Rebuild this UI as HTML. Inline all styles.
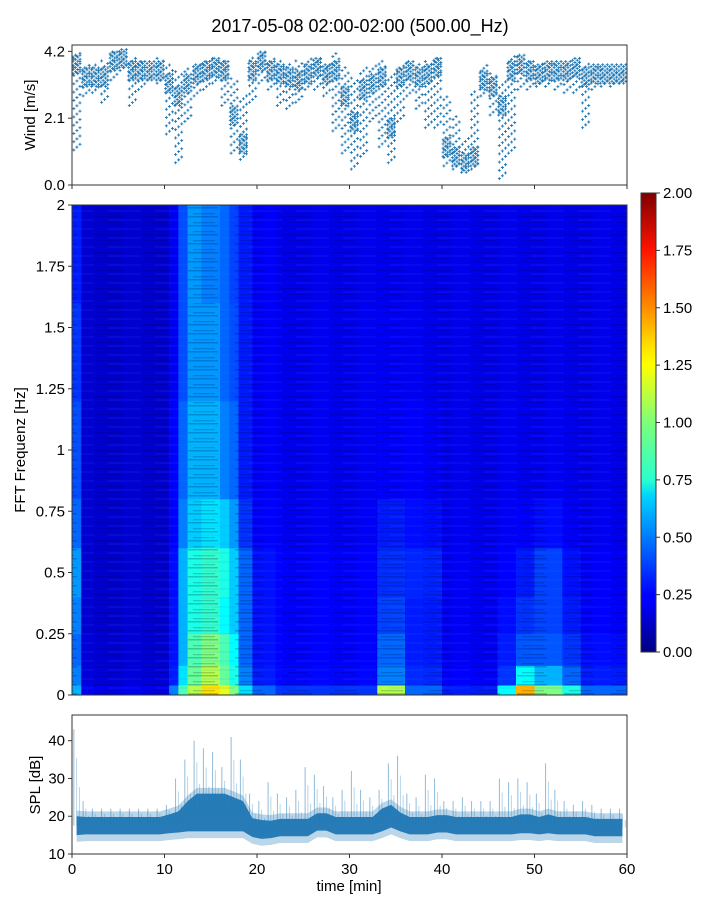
<!DOCTYPE html>
<html><head><meta charset="utf-8">
<style>
body{margin:0;background:#fff;}
svg{display:block;font-family:"Liberation Sans","DejaVu Sans",sans-serif;}
</style></head>
<body>
<svg id="fig" width="720" height="900" viewBox="0 0 720 900">
<defs>
<pattern id="streaks" width="47" height="9" patternUnits="userSpaceOnUse">
<rect x="0" y="0" width="30" height="1.5" fill="rgba(0,0,60,0.22)"/>
<rect x="14" y="3.5" width="33" height="1" fill="rgba(60,110,255,0.18)"/>
<rect x="5" y="6" width="22" height="1.3" fill="rgba(0,0,40,0.18)"/>
</pattern>
<linearGradient id="jet" x1="0" y1="1" x2="0" y2="0">
<stop offset="0" stop-color="#00007f"/><stop offset="0.11" stop-color="#0000ff"/>
<stop offset="0.125" stop-color="#0000ff"/><stop offset="0.34" stop-color="#00d4ff"/>
<stop offset="0.375" stop-color="#29ffce"/><stop offset="0.5" stop-color="#7dff7a"/>
<stop offset="0.625" stop-color="#ffff00"/><stop offset="0.66" stop-color="#ffe600"/>
<stop offset="0.875" stop-color="#ff1300"/><stop offset="1" stop-color="#7f0000"/>
</linearGradient>
</defs>
<text x="360" y="32" font-size="18" text-anchor="middle">2017-05-08 02:00-02:00 (500.00_Hz)</text>
<g id="wind"></g>
<g id="spec"></g>
<g id="cbar"></g>
<g id="spl"></g>
</svg>
<script>
// ---------- data ----------
const windCore=[3.8,3.4,3.4,3.4,3.9,4.0,3.6,3.6,3.6,3.6,3.2,2.8,3.2,3.5,3.6,3.7,3.6,2.2,1.3,3.6,3.9,3.6,3.5,3.4,3.3,3.5,3.7,3.5,3.6,2.8,2.0,3.0,3.2,3.4,1.8,3.4,3.6,3.4,3.5,3.7,1.2,0.9,0.7,0.9,3.3,3.1,2.5,3.6,3.8,3.6,3.5,3.6,3.6,3.6,3.7,3.4,3.5,3.5,3.5,3.5];
const windLo=[1.1,2.8,2.9,2.6,3.3,3.6,2.5,3.0,3.3,3.2,1.6,0.7,2.0,2.8,3.0,3.2,2.5,1.0,0.8,2.6,3.2,3.0,2.5,2.4,2.6,3.0,3.0,2.8,1.7,1.0,0.5,0.9,2.0,1.2,0.7,2.0,2.8,2.4,1.8,1.8,0.6,0.5,0.5,0.5,2.8,2.2,0.2,1.0,3.0,3.0,3.1,3.1,3.0,2.9,2.9,1.8,3.0,3.1,3.1,3.2];
const windHi=[4.2,3.8,3.8,3.9,4.2,4.2,4.0,3.9,3.8,4.0,3.8,3.6,3.7,3.8,3.9,4.0,3.9,3.4,2.8,4.0,4.2,4.0,3.9,3.8,3.9,4.0,4.0,3.8,4.2,3.7,3.4,3.7,3.8,3.9,3.5,3.8,3.9,3.8,3.9,4.0,2.8,2.2,1.5,3.0,3.8,3.5,3.3,4.1,4.1,3.9,3.8,3.8,3.8,3.8,3.9,3.8,3.7,3.7,3.7,3.6];
const windTicks=["0.0","2.1","4.2"];

const segEdges=[0,1,10.5,11.5,12.5,14,16,17,18,19.5,22,33,36,40,46,48,50,53,55,60];
const bandEdges=[0,0.04,0.12,0.25,0.4,0.6,0.8,1.2,1.6,2];
const specVals=[
[0.6,0.5,0.45,0.5,0.55,0.45,0.4,0.35,0.3],
[0.22,0.18,0.17,0.16,0.16,0.16,0.16,0.16,0.16],
[0.5,0.3,0.28,0.28,0.27,0.25,0.25,0.22,0.22],
[0.9,0.7,0.6,0.6,0.6,0.5,0.45,0.4,0.4],
[1.1,0.95,0.9,0.8,0.8,0.65,0.6,0.55,0.55],
[1.3,1.1,1.0,0.85,0.85,0.7,0.6,0.55,0.5],
[1.2,0.95,0.9,0.75,0.8,0.65,0.5,0.45,0.45],
[1.0,0.8,0.75,0.65,0.65,0.55,0.45,0.4,0.38],
[0.7,0.5,0.45,0.45,0.45,0.35,0.3,0.3,0.3],
[0.45,0.3,0.28,0.28,0.28,0.25,0.24,0.24,0.24],
[0.35,0.26,0.25,0.25,0.25,0.23,0.22,0.22,0.21],
[1.1,0.5,0.45,0.38,0.34,0.3,0.25,0.24,0.22],
[0.45,0.33,0.3,0.3,0.32,0.27,0.24,0.22,0.21],
[0.3,0.25,0.23,0.23,0.23,0.22,0.21,0.21,0.21],
[0.75,0.35,0.3,0.27,0.25,0.23,0.22,0.21,0.21],
[1.4,0.75,0.42,0.35,0.3,0.25,0.22,0.21,0.21],
[1.0,0.6,0.42,0.38,0.38,0.27,0.22,0.21,0.21],
[0.8,0.45,0.35,0.3,0.28,0.24,0.22,0.21,0.21],
[0.45,0.3,0.27,0.25,0.24,0.22,0.21,0.21,0.21]];
const freqTicks=["0","0.25","0.5","0.75","1","1.25","1.5","1.75","2"];
const cbarTicks=["0.00","0.25","0.50","0.75","1.00","1.25","1.50","1.75","2.00"];

const splMid=[17.5,17.5,17.5,17.5,17.5,17.5,17.5,17.5,17.5,17.5,18,18.5,20,21,21,21,21,20.5,20,17,16.5,16.5,17,17,17,17,18.5,18.5,17.5,17.5,17.5,17.5,17.5,19,20,18.5,17.5,17.5,17.5,18,18,17.5,17.5,17.5,17.5,17.5,17.5,17.5,18,18,17.5,18,17.5,17.5,17.5,17.5,17,17,17,17];
const splHalf=[2.5,2.3,2.3,2.3,2.3,2.3,2.3,2.3,2.3,2.3,2.5,2.8,4,5,5,5,5,4.5,4,2.5,2.5,2.3,2.3,2.3,2.3,2.3,2.3,2.3,2.3,2.3,2.3,2.3,2.3,3,3,2.5,2.3,2.3,2.3,2.3,2.3,2.3,2.3,2.3,2.3,2.3,2.3,2.3,2.5,2.5,2.3,2.5,2.3,2.3,2.3,2.3,2.3,2.3,2.3,2.3];
const splPeak=[43,24,22,22,22,22,22,22,22,22,23,30,35,40,38,37,33,41,35,26,24,29,26,25,27,33,31,28,25,27,32,27,25,27,34,36,26,25,31,30,24,24,25,24,24,24,30,29,30,29,26,34,27,24,23,24,23,22,22,22];
const splTicks=["10","20","30","40"];
const timeTicks=["0","10","20","30","40","50","60"];

// ---------- helpers ----------
const NS="http://www.w3.org/2000/svg";
function mk(tag,attrs,parent){const e=document.createElementNS(NS,tag);for(const k in attrs)e.setAttribute(k,attrs[k]);parent.appendChild(e);return e;}
const X0=72,X1=627;
const xT=t=>X0+(X1-X0)*t/60;
function jet(v){let x=Math.max(0,Math.min(1,v/2));
 const r=Math.max(0,Math.min(1,1.5-Math.abs(4*x-3))),g=Math.max(0,Math.min(1,1.5-Math.abs(4*x-2))),b=Math.max(0,Math.min(1,1.5-Math.abs(4*x-1)));
 return `rgb(${Math.round(r*255)},${Math.round(g*255)},${Math.round(b*255)})`;}
function txt(parent,x,y,s,anchor,size){const e=mk('text',{x:x,y:y,'font-size':size||15,'text-anchor':anchor||'end'},parent);e.textContent=s;return e;}

// ---------- wind panel ----------
(function(){
const g=document.getElementById('wind');
const T=45,B=185;const yW=v=>B-(v/4.4)*(B-T);
let d="";
for(let i=0;i<windCore.length;i++){
 for(let k=0;k<4;k++){const t=i+k*0.25+0.12;
  for(let v=windCore[i]-0.3;v<=windCore[i]+0.31;v+=0.13){const x=xT(t),y=yW(Math.min(4.2,v)+((k%2)?0.06:0));d+=`M${x-1.5},${y}h3M${x},${y-1.5}v3`;}
 }
 for(let k=0;k<3;k++){const t=i+k*0.33+0.2;
  for(let v=windLo[i]+(k*0.09);v<=windHi[i];v+=0.26){const x=xT(t),y=yW(v);d+=`M${x-1.5},${y}h3M${x},${y-1.5}v3`;}
 }
}
const p=mk('path',{d:d,stroke:'#1f77b4','stroke-width':0.9,fill:'none'},g);


const fr=mk('rect',{x:X0,y:T,width:X1-X0,height:B-T,fill:'none',stroke:'#333','stroke-width':1},g);


windTicks.forEach(s=>{const y=yW(parseFloat(s));mk('line',{x1:X0-4,x2:X0,y1:y,y2:y,stroke:'#333'},g);
 const t=txt(g,X0-7,y+5,s);});
timeTicks.forEach(s=>{const x=xT(+s);mk('line',{x1:x,x2:x,y1:B,y2:B+4,stroke:'#333'},g);});
const yl=txt(g,0,0,'Wind [m/s]','middle',15);yl.setAttribute('transform','translate(35,115) rotate(-90)');


})();

// ---------- spectrogram ----------
(function(){
const g=document.getElementById('spec');
const T=205,B=695;const yF=f=>B-(f/2)*(B-T);
for(let s=0;s<specVals.length;s++){for(let b=0;b<bandEdges.length-1;b++){
 const x=xT(segEdges[s]),w=xT(segEdges[s+1])-x,y=yF(bandEdges[b+1]),h=yF(bandEdges[b])-y;
 const r=mk('rect',{x:x,y:y,width:w+0.3,height:h+0.3,fill:jet(specVals[s][b])},g);
 
 
}}
mk('rect',{x:X0,y:T,width:X1-X0,height:B-T,fill:'url(#streaks)'},g);
const fr=mk('rect',{x:X0,y:T,width:X1-X0,height:B-T,fill:'none',stroke:'#333'},g);


freqTicks.forEach(s=>{const y=yF(parseFloat(s));mk('line',{x1:X0-4,x2:X0,y1:y,y2:y,stroke:'#333'},g);
 const t=txt(g,X0-7,y+5,s);});
const yl=txt(g,0,0,'FFT Frequenz [Hz]','middle',15);yl.setAttribute('transform','translate(25,450) rotate(-90)');


})();

// ---------- colorbar ----------
(function(){
const g=document.getElementById('cbar');
const T=193,B=652,L=641,W=15;
const r=mk('rect',{x:L,y:T,width:W,height:B-T,fill:'url(#jet)',stroke:'#333'},g);


cbarTicks.forEach(s=>{const y=B-(parseFloat(s)/2)*(B-T);mk('line',{x1:L+W,x2:L+W+4,y1:y,y2:y,stroke:'#333'},g);
 const t=txt(g,L+W+7,y+5,s,'start');});
})();

// ---------- SPL ----------
(function(){
const g=document.getElementById('spl');
const T=715,B=854;const yS=v=>B-(v-10)/(46.8-10)*(B-T);
let up="",lo="";const n=splMid.length;
for(let i=0;i<n;i++){const x=xT(i+0.5);up+=`${x},${yS(splMid[i]+splHalf[i])} `;}
for(let i=n-1;i>=0;i--){const x=xT(i+0.5);lo+=`${x},${yS(splMid[i]-splHalf[i])} `;}
let lightUp="",lightLo="";
for(let i=0;i<n;i++){lightUp+=`${xT(i+0.5)},${yS(splMid[i]+splHalf[i]+1.5)} `;}
for(let i=n-1;i>=0;i--){lightLo+=`${xT(i+0.5)},${yS(splMid[i]-splHalf[i]-1.8)} `;}
const a=mk('polygon',{points:lightUp+lightLo,fill:'#1f77b4','fill-opacity':0.3},g);


for(let i=0;i<n;i++){
 for(let k=0;k<3;k++){const x=xT(i+0.2+k*0.3),top=splPeak[i]-k*(splPeak[i]-splMid[i])*0.3;
  const l=mk('line',{x1:x,x2:x,y1:yS(top),y2:yS(splMid[i]),stroke:'#1f77b4','stroke-width':0.9,'stroke-opacity':k==0?0.55:0.35},g);
  
  
 }
}
const band=mk('polygon',{points:up+lo,fill:'#1f77b4','fill-opacity':0.95},g);


const fr=mk('rect',{x:X0,y:T,width:X1-X0,height:B-T,fill:'none',stroke:'#333'},g);


splTicks.forEach(s=>{const y=yS(+s);mk('line',{x1:X0-4,x2:X0,y1:y,y2:y,stroke:'#333'},g);
 const t=txt(g,X0-7,y+5,s);});
timeTicks.forEach(s=>{const x=xT(+s);mk('line',{x1:x,x2:x,y1:B,y2:B+4,stroke:'#333'},g);
 const t=txt(g,x,B+20,s,'middle');});
const yl=txt(g,0,0,'SPL [dB]','middle',15);yl.setAttribute('transform','translate(40,785) rotate(-90)');


const xl=txt(g,349,891,'time [min]','middle',15);


})();
</script>
</body></html>
